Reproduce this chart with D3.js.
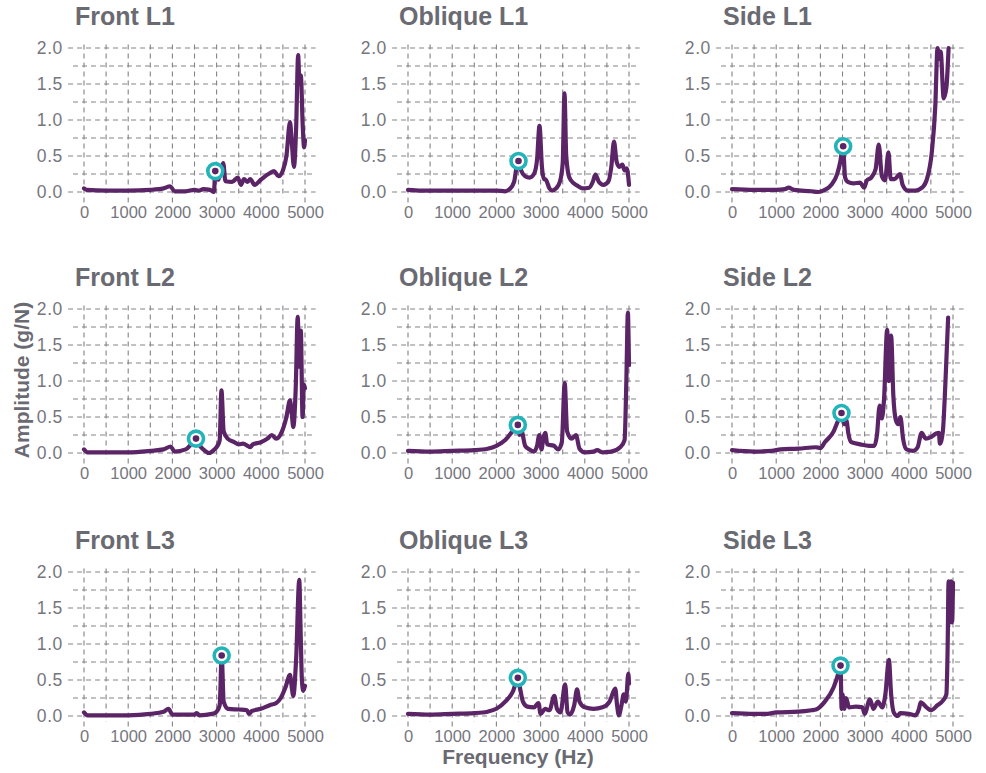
<!DOCTYPE html>
<html>
<head>
<meta charset="utf-8">
<script src="https://cdn.jsdelivr.net/npm/d3@7"></script>
<style>
    body { margin: 0; background: #fff; }
    text { font-family: "Liberation Sans", Arial, sans-serif; }
</style>
</head>
<body>
<div id="chart"></div>
<script>
// frequency (Hz), amplitude (g/N)
var frontL1 = [[0,0.05],[60,0.03],[500,0.02],[1000,0.02],[1500,0.03],[1800,0.05],[1950,0.08],[2050,0.01],[2300,0.01],[2500,0.03],[2600,0.02],[2700,0.04],[2850,0.03],[2940,0.0],[2970,0.29],[3040,0.17],[3100,0.3],[3150,0.4],[3200,0.15],[3350,0.14],[3480,0.2],[3550,0.1],[3620,0.18],[3700,0.14],[3760,0.18],[3860,0.1],[4000,0.17],[4200,0.26],[4300,0.29],[4400,0.22],[4500,0.3],[4580,0.5],[4660,0.97],[4700,0.7],[4750,0.35],[4800,0.9],[4845,1.9],[4875,1.5],[4905,1.62],[4950,0.9],[4980,0.62],[5000,0.72]];
var obliqueL1 = [[0,0.03],[300,0.02],[1000,0.02],[1500,0.02],[2000,0.02],[2200,0.01],[2300,0.04],[2400,0.14],[2450,0.32],[2500,0.42],[2560,0.3],[2650,0.22],[2750,0.2],[2850,0.25],[2920,0.45],[2975,0.92],[3030,0.35],[3080,0.18],[3120,0.17],[3200,0.05],[3260,0.02],[3350,0.05],[3440,0.15],[3500,0.4],[3540,1.37],[3580,0.5],[3650,0.2],[3750,0.12],[3850,0.08],[3950,0.05],[4100,0.06],[4180,0.14],[4240,0.24],[4320,0.14],[4420,0.1],[4530,0.14],[4600,0.35],[4660,0.7],[4720,0.42],[4780,0.35],[4850,0.38],[4900,0.3],[4950,0.33],[5000,0.1]];
var sideL1 = [[0,0.04],[500,0.03],[1000,0.03],[1200,0.04],[1280,0.06],[1400,0.03],[1800,0.01],[1950,0.0],[2100,0.03],[2250,0.1],[2380,0.25],[2450,0.42],[2510,0.64],[2560,0.2],[2620,0.14],[2750,0.12],[2900,0.13],[2990,0.06],[3050,0.16],[3150,0.2],[3250,0.32],[3320,0.66],[3390,0.22],[3460,0.16],[3540,0.55],[3590,0.18],[3680,0.18],[3800,0.25],[3860,0.1],[3980,0.02],[4150,0.02],[4300,0.06],[4420,0.2],[4520,0.55],[4600,1.2],[4650,2.0],[4690,1.85],[4720,1.95],[4790,1.3],[4850,1.45],[4900,2.0]];
var frontL2 = [[0,0.05],[80,0.01],[500,0.01],[1000,0.01],[1500,0.03],[1800,0.05],[1960,0.09],[2050,0.02],[2300,0.05],[2420,0.12],[2530,0.2],[2620,0.1],[2720,0.04],[2830,0.0],[2950,0.05],[3020,0.1],[3070,0.18],[3110,0.87],[3160,0.3],[3250,0.2],[3400,0.15],[3500,0.12],[3600,0.13],[3700,0.1],[3760,0.08],[3820,0.12],[4000,0.15],[4150,0.2],[4250,0.25],[4350,0.2],[4480,0.3],[4580,0.5],[4660,0.73],[4700,0.55],[4735,0.36],[4790,0.9],[4835,1.89],[4870,1.2],[4905,1.7],[4945,0.5],[4975,0.95],[5000,0.9]];
var obliqueL2 = [[0,0.03],[500,0.02],[1000,0.03],[1500,0.04],[1800,0.06],[2000,0.1],[2200,0.18],[2350,0.29],[2485,0.39],[2530,0.25],[2570,0.3],[2650,0.1],[2750,0.05],[2850,0.02],[2920,0.1],[2970,0.25],[3020,0.05],[3060,0.2],[3105,0.28],[3150,0.12],[3300,0.1],[3400,0.05],[3480,0.15],[3545,0.97],[3600,0.3],[3700,0.2],[3800,0.25],[3880,0.06],[4000,0.01],[4200,0.02],[4280,0.04],[4400,0.01],[4600,0.02],[4800,0.08],[4900,0.18],[4940,1.0],[4975,1.95],[4990,1.6],[5000,1.22]];
var sideL2 = [[0,0.04],[500,0.02],[900,0.03],[1100,0.05],[1500,0.06],[1900,0.08],[2000,0.07],[2100,0.15],[2300,0.3],[2400,0.45],[2475,0.56],[2540,0.4],[2590,0.45],[2630,0.28],[2700,0.15],[2900,0.12],[3100,0.1],[3220,0.1],[3280,0.25],[3340,0.66],[3390,0.48],[3440,0.75],[3510,1.71],[3550,1.0],[3600,1.63],[3650,0.8],[3710,0.45],[3760,0.4],[3810,0.5],[3870,0.2],[3950,0.05],[4100,0.03],[4200,0.08],[4290,0.28],[4380,0.2],[4500,0.22],[4620,0.27],[4680,0.28],[4705,0.13],[4770,0.3],[4830,1.0],[4890,1.88]];
var frontL3 = [[0,0.05],[80,0.01],[500,0.01],[1000,0.01],[1500,0.03],[1800,0.06],[1910,0.1],[2000,0.02],[2500,0.02],[2550,0.04],[2610,0.01],[2900,0.03],[3000,0.06],[3070,0.15],[3115,0.84],[3160,0.2],[3260,0.1],[3500,0.09],[3690,0.08],[3730,0.03],[3800,0.07],[4000,0.1],[4200,0.15],[4350,0.18],[4450,0.25],[4560,0.4],[4660,0.57],[4700,0.4],[4735,0.28],[4800,0.8],[4870,1.89],[4900,1.2],[4930,0.5],[4960,0.35],[5000,0.42]];
var obliqueL3 = [[0,0.03],[500,0.02],[1000,0.03],[1500,0.04],[1800,0.06],[2000,0.1],[2200,0.2],[2380,0.35],[2485,0.53],[2530,0.4],[2600,0.2],[2700,0.13],[2850,0.12],[2950,0.18],[3000,0.03],[3100,0.1],[3200,0.08],[3310,0.28],[3370,0.1],[3450,0.05],[3555,0.44],[3610,0.05],[3660,0.02],[3760,0.15],[3825,0.37],[3880,0.2],[4000,0.12],[4200,0.1],[4400,0.12],[4560,0.2],[4690,0.38],[4730,0.15],[4770,0.01],[4830,0.15],[4880,0.3],[4930,0.2],[4985,0.59],[5000,0.45]];
var sideL3 = [[0,0.04],[500,0.03],[800,0.03],[1000,0.05],[1500,0.06],[1800,0.08],[1900,0.09],[2100,0.2],[2300,0.4],[2410,0.6],[2455,0.7],[2480,0.1],[2500,0.3],[2540,0.1],[2580,0.25],[2650,0.12],[2800,0.13],[2950,0.12],[3000,0.03],[3120,0.23],[3200,0.1],[3300,0.2],[3400,0.12],[3470,0.3],[3550,0.78],[3600,0.3],[3660,0.05],[3750,0.0],[3800,0.04],[4000,0.03],[4150,0.01],[4230,0.1],[4270,0.19],[4400,0.12],[4500,0.08],[4650,0.15],[4780,0.22],[4850,0.3],[4880,1.0],[4900,1.87],[4930,1.3],[4960,1.87],[4980,1.3],[5000,1.85]];

var panelTitles = ["Front L1", "Oblique L1", "Side L1",
                   "Front L2", "Oblique L2", "Side L2",
                   "Front L3", "Oblique L3", "Side L3"];
var panelSeries = [frontL1, obliqueL1, sideL1,
                   frontL2, obliqueL2, sideL2,
                   frontL3, obliqueL3, sideL3];
// highlighted mode in each panel
var peakMarkers = [[2970,0.29],[2500,0.43],[2515,0.635],
                   [2534,0.2],[2485,0.39],[2477,0.555],
                   [3115,0.84],[2485,0.53],[2455,0.70]];

var xTicks = [0, 1000, 2000, 3000, 4000, 5000];
var xGrid = [0, 500, 1000, 1500, 2000, 2500, 3000, 3500, 4000, 4500, 5000];
var yTicks = [0, 0.5, 1.0, 1.5, 2.0];
var yGrid = [0, 0.25, 0.5, 0.75, 1.0, 1.25, 1.5, 1.75, 2.0];

// layout
var colX = [84, 408, 732],
    rowY = [48, 309, 572],
    width = 221,
    height = 144;

var lineColor = "#5b2467",
    ringColor = "#22b4b8",
    gridColor = "#838388",
    textColor = "#76767e",
    titleColor = "#6a6a72";

var svg = d3.select("#chart").append("svg")
    .attr("width", 986)
    .attr("height", 773);

var x = d3.scaleLinear().domain([0, 5000]).range([0, width]);
var y = d3.scaleLinear().domain([0, 2]).range([height, 0]);

var line = d3.line()
    .curve(d3.curveMonotoneX)
    .x(function(d) { return x(d[0]); })
    .y(function(d) { return y(d[1]); });

panelSeries.forEach(function(data, i) {
    var g = svg.append("g")
        .attr("transform", "translate(" + colX[i % 3] + "," + rowY[Math.floor(i / 3)] + ")");

    // dashed grid, major lines run a bit further out like ticks
    g.append("g").selectAll("line")
        .data(yGrid)
        .enter().append("line")
        .attr("x1", function(d) { return yTicks.indexOf(d) >= 0 ? x(-360) : x(-250); })
        .attr("x2", x(5240))
        .attr("y1", function(d) { return y(d); })
        .attr("y2", function(d) { return y(d); })
        .attr("stroke", gridColor)
        .attr("stroke-width", 1.1)
        .attr("stroke-dasharray", "5,4");

    g.append("g").selectAll("line")
        .data(xGrid)
        .enter().append("line")
        .attr("x1", function(d) { return x(d); })
        .attr("x2", function(d) { return x(d); })
        .attr("y1", y(2.05))
        .attr("y2", function(d) { return xTicks.indexOf(d) >= 0 ? y(-0.15) : y(-0.08); })
        .attr("stroke", gridColor)
        .attr("stroke-width", 1.1)
        .attr("stroke-dasharray", "5,4");

    // tick labels via d3 axes
    var yAxis = g.append("g")
        .attr("transform", "translate(" + x(-250) + ",0)")
        .call(d3.axisLeft(y).tickValues(yTicks).tickFormat(d3.format(".1f")).tickSize(0).tickPadding(10));
    var xAxis = g.append("g")
        .attr("transform", "translate(0," + (height + 6) + ")")
        .call(d3.axisBottom(x).tickValues(xTicks).tickFormat(d3.format("d")).tickSize(0).tickPadding(8));
    yAxis.select(".domain").remove();
    xAxis.select(".domain").remove();
    yAxis.selectAll("text")
        .attr("fill", textColor)
        .attr("font-size", "17.5px")
        .style("letter-spacing", "0.6px");
    xAxis.selectAll("text")
        .attr("fill", textColor)
        .attr("font-size", "16.5px");

    g.append("text")
        .attr("x", -9)
        .attr("y", -23)
        .attr("fill", titleColor)
        .attr("font-size", "25px")
        .attr("font-weight", "bold")
        .text(panelTitles[i]);

    g.append("path")
        .datum(data)
        .attr("d", line)
        .attr("fill", "none")
        .attr("stroke", lineColor)
        .attr("stroke-width", 4.2)
        .attr("stroke-linejoin", "round")
        .attr("stroke-linecap", "round");

    var m = peakMarkers[i];
    g.append("circle")
        .attr("cx", x(m[0]))
        .attr("cy", y(m[1]))
        .attr("r", 7.5)
        .attr("fill", "#fff")
        .attr("stroke", ringColor)
        .attr("stroke-width", 3.6);
    g.append("circle")
        .attr("cx", x(m[0]))
        .attr("cy", y(m[1]))
        .attr("r", 3.3)
        .attr("fill", lineColor);
});

// shared axis titles
svg.append("text")
    .attr("transform", "translate(29,380) rotate(-90)")
    .attr("text-anchor", "middle")
    .attr("fill", titleColor)
    .attr("font-size", "21px")
    .attr("font-weight", "bold")
    .text("Amplitude (g/N)");

svg.append("text")
    .attr("x", 518)
    .attr("y", 764)
    .attr("text-anchor", "middle")
    .attr("fill", titleColor)
    .attr("font-size", "21px")
    .attr("font-weight", "bold")
    .text("Frequency (Hz)");
</script>
</body>
</html>
